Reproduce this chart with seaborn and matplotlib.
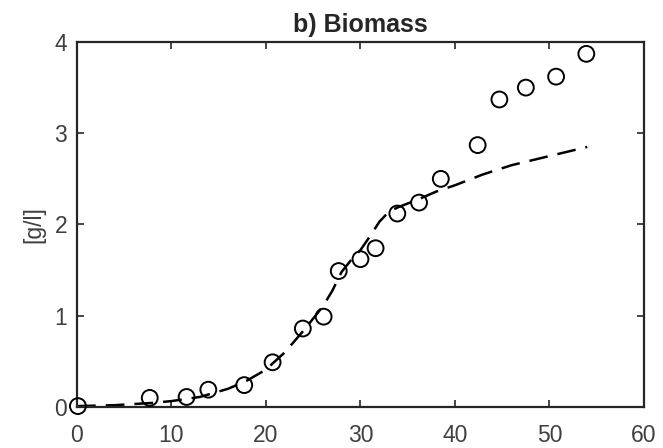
import numpy as np
import pandas as pd
import matplotlib
matplotlib.use("Agg")
import matplotlib.pyplot as plt
import seaborn as sns

# measured biomass (circles)
time_meas = [0.1, 7.7, 11.6, 13.9, 17.7, 20.7, 23.9, 26.1, 27.7, 30.0, 31.6,
             33.9, 36.2, 38.5, 42.4, 44.7, 47.5, 50.7, 53.9]
biomass_meas = [0.01, 0.10, 0.11, 0.19, 0.24, 0.49, 0.86, 0.99, 1.49, 1.62, 1.74,
                2.12, 2.24, 2.50, 2.87, 3.37, 3.50, 3.62, 3.87]

# model curve (dashed)
time_model = [0, 4, 8, 10, 13, 16, 18, 20, 22, 23, 24, 26, 27, 28, 29, 30, 31,
              32, 33, 34, 36, 38, 40, 43, 46, 50, 54]
biomass_model = [0.01, 0.02, 0.045, 0.065, 0.11, 0.20, 0.29, 0.41, 0.60, 0.72,
                 0.84, 1.10, 1.27, 1.48, 1.61, 1.72, 1.87, 2.03, 2.14, 2.19,
                 2.27, 2.36, 2.43, 2.55, 2.65, 2.75, 2.85]

df_meas = pd.DataFrame({"t": time_meas, "x": biomass_meas})
df_model = pd.DataFrame({"t": time_model, "x": biomass_model})

sns.set_style("ticks")
plt.rcParams["font.family"] = ["Liberation Sans", "DejaVu Sans"]
plt.rcParams["xtick.direction"] = "in"
plt.rcParams["ytick.direction"] = "in"

fig = plt.figure(figsize=(6.63, 4.48), dpi=100)
ax = fig.add_axes([0.1161, 0.0915, 0.8552, 0.8148])

sns.lineplot(data=df_model, x="t", y="x", ax=ax, color="black",
             linewidth=1.8, dashes=False)
ax.lines[0].set_dashes([7.5, 4])
sns.scatterplot(data=df_meas, x="t", y="x", ax=ax, marker="o", s=130,
                facecolor="none", edgecolor="black", linewidth=1.4, zorder=3)

ax.set_xlim(0, 60)
ax.set_ylim(0, 4)
ax.set_xticks(range(0, 61, 10))
ax.set_yticks(range(0, 5))
ax.tick_params(top=True, right=True, labelsize=16.5, colors="#262626",
               labelcolor="#404040", length=5, width=1.2)
ax.tick_params(axis="x", pad=12)
ax.tick_params(axis="y", pad=7)
for s in ax.spines.values():
    s.set_linewidth(1.6)
    s.set_color("#262626")
ax.set_xlabel("")
ax.set_ylabel("[g/l]", fontsize=16.5, color="#404040")
ax.yaxis.set_label_coords(-0.056, 0.5)
ax.set_title("b) Biomass", fontsize=18, fontweight="bold", pad=7)
for c in ax.collections:
    c.set_clip_on(False)

fig.savefig("out.png", dpi=100)
